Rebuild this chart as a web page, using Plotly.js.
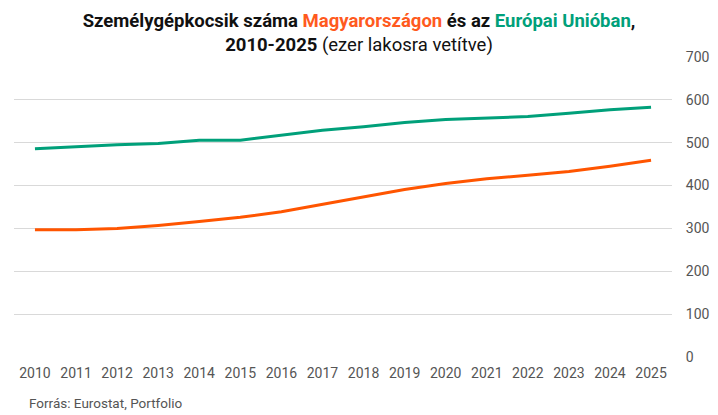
<!DOCTYPE html>
<html>
<head>
<meta charset="utf-8">
<script src="https://cdn.plot.ly/plotly-3.0.1.min.js"></script>
<style>
  html, body { margin: 0; padding: 0; background: #fff; }
  #plotly { width: 718px; height: 415px; }
</style>
</head>
<body>
<div id="plotly"></div>
<script>
var years = [2010, 2011, 2012, 2013, 2014, 2015, 2016, 2017, 2018, 2019, 2020, 2021, 2022, 2023, 2024, 2025];
var hungary = [297, 297, 300, 307, 316, 326, 339, 356, 374, 391, 405, 416, 424, 433, 445, 459];
var eu = [486, 491, 495, 498, 506, 506, 517, 529, 537, 547, 554, 558, 561, 569, 577, 583];
var yTicks = [0, 100, 200, 300, 400, 500, 600, 700];

var orange = '#ff5500';
var green = '#00a07a';

var traceHu = {
  x: years,
  y: hungary,
  mode: 'lines',
  name: 'Magyarország',
  line: { color: orange, width: 3 }
};

var traceEu = {
  x: years,
  y: eu,
  mode: 'lines',
  name: 'Európai Unió',
  line: { color: green, width: 3 }
};

var layout = {
  width: 718,
  height: 415,
  showlegend: false,
  paper_bgcolor: '#fff',
  plot_bgcolor: '#fff',
  font: { family: 'Roboto, sans-serif', color: '#555' },
  margin: { l: 14, r: 46, t: 57, b: 58 },
  title: {
    text: '<b>Személygépkocsik száma <span style="color:#ff5a1e">Magyarországon</span> és az <span style="color:' + green + '">Európai Unióban</span>,<br>2010-2025</b> (ezer lakosra vetítve)',
    font: { family: 'Roboto, sans-serif', size: 18.5, color: '#111' },
    x: 0.5,
    xanchor: 'center',
    y: 0.934,
    yanchor: 'middle'
  },
  xaxis: {
    range: [2009.49, 2025.51],
    tickmode: 'array',
    tickvals: years,
    ticktext: years.map(String),
    showgrid: false,
    zeroline: false,
    showline: false,
    ticks: 'outside',
    ticklen: 3,
    tickcolor: 'rgba(0,0,0,0)',
    tickfont: { size: 14, color: '#555' },
    fixedrange: true
  },
  yaxis: {
    side: 'right',
    range: [0, 700],
    tickmode: 'array',
    tickvals: yTicks,
    showgrid: true,
    gridcolor: '#d9d9d9',
    gridwidth: 1,
    zeroline: false,
    showline: false,
    ticks: 'outside',
    ticklen: 10,
    tickcolor: 'rgba(0,0,0,0)',
    tickfont: { size: 14, color: '#555' },
    fixedrange: true
  },
  annotations: [{
    text: 'Forrás: Eurostat, Portfolio',
    xref: 'paper',
    yref: 'paper',
    x: 0.0198,
    y: -0.154,
    xanchor: 'left',
    yanchor: 'middle',
    showarrow: false,
    font: { size: 13.5, color: '#555' }
  }]
};

Plotly.newPlot('plotly', [traceHu, traceEu], layout, { displayModeBar: false, staticPlot: true });
</script>
</body>
</html>
